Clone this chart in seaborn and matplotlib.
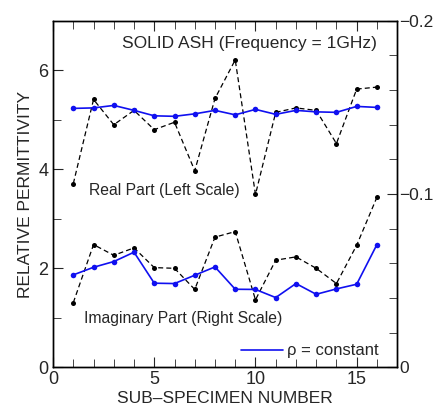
import matplotlib
matplotlib.use("Agg")
import matplotlib.pyplot as plt
import seaborn as sns
import numpy as np
import pandas as pd
from matplotlib.lines import Line2D
from matplotlib.ticker import MultipleLocator, FuncFormatter

specimen = list(range(1, 17))
real_measured = [3.71, 5.41, 4.90, 5.19, 4.80, 4.95, 3.97, 5.43,
                 6.21, 3.49, 5.15, 5.24, 5.19, 4.52, 5.62, 5.66]
real_const = [5.23, 5.24, 5.29, 5.19, 5.08, 5.07, 5.12, 5.19,
              5.10, 5.21, 5.11, 5.19, 5.16, 5.15, 5.27, 5.25]
imag_measured = [-0.0373, -0.0708, -0.0646, -0.0689, -0.0575, -0.0571, -0.0449, -0.0751,
                 -0.0783, -0.0389, -0.0618, -0.0637, -0.0571, -0.0483, -0.0704, -0.0981]
imag_const = [-0.0533, -0.0577, -0.0610, -0.0664, -0.0485, -0.0483, -0.0531, -0.0579,
              -0.0450, -0.0449, -0.0402, -0.0483, -0.0421, -0.0452, -0.0479, -0.0708]

sns.set_style("ticks")
plt.rcParams['font.family'] = ['Liberation Sans', 'DejaVu Sans']
plt.rcParams['axes.unicode_minus'] = True

fig = plt.figure(figsize=(4.35, 4.08), dpi=100)
ax = fig.add_axes([0.122, 0.100, 0.791, 0.849])
ax2 = ax.twinx()

df = pd.DataFrame({"n": specimen, "rm": real_measured, "rc": real_const,
                   "im": imag_measured, "ic": imag_const})

kw_meas = dict(color="black", linewidth=0.9, marker="o", markersize=3.6,
               markeredgewidth=0, linestyle=(0, (4, 2.5)))
kw_const = dict(color="#1010f0", linewidth=1.2, marker="o", markersize=4,
                markeredgewidth=0)

sns.lineplot(data=df, x="n", y="rm", ax=ax, **kw_meas)
sns.lineplot(data=df, x="n", y="rc", ax=ax, **kw_const)
sns.lineplot(data=df, x="n", y="im", ax=ax2, **kw_meas)
sns.lineplot(data=df, x="n", y="ic", ax=ax2, **kw_const)

ax.set_xlim(0, 17)
ax.set_ylim(0, 7)
ax2.set_ylim(0, -0.2)

ax.xaxis.set_major_locator(MultipleLocator(5))
ax.xaxis.set_minor_locator(MultipleLocator(1))
ax.yaxis.set_major_locator(MultipleLocator(2))
ax.yaxis.set_minor_locator(MultipleLocator(1))
ax2.yaxis.set_major_locator(MultipleLocator(0.1))
ax2.yaxis.set_minor_locator(MultipleLocator(0.02))

def rfmt(v, p):
    if abs(v) < 1e-9:
        return "0"
    return ("%.1f" % v).replace("-", "\u2212")
ax2.yaxis.set_major_formatter(FuncFormatter(rfmt))

ax.tick_params(axis="x", which="both", direction="in", top=True, bottom=True,
               labelsize=13, pad=3)
ax.tick_params(axis="x", which="major", length=7)
ax.tick_params(axis="x", which="minor", length=6)
ax.tick_params(axis="y", which="both", direction="in", left=True, right=False,
               labelsize=13)
ax.tick_params(axis="y", which="major", length=7)
ax.tick_params(axis="y", which="minor", length=6)
ax2.tick_params(axis="y", which="both", direction="in", labelsize=12.5, pad=1.5)
ax2.tick_params(axis="y", which="major", length=7)
ax2.tick_params(axis="y", which="minor", length=6)

for a in (ax, ax2):
    for s in a.spines.values():
        s.set_linewidth(1.0)
        s.set_color("black")

ax.set_xlabel("SUB\u2013SPECIMEN NUMBER", fontsize=12.5, labelpad=2)
ax.set_ylabel("RELATIVE PERMITTIVITY", fontsize=12.5, labelpad=4)
ax2.set_ylabel("")

ax.text(0.94, 0.935, "SOLID ASH (Frequency = 1GHz)", transform=ax.transAxes,
        ha="right", va="center", fontsize=12.5)
ax.text(0.105, 0.51, "Real Part (Left Scale)", transform=ax.transAxes,
        ha="left", va="center", fontsize=11.3)
ax.text(0.09, 0.14, "Imaginary Part (Right Scale)", transform=ax.transAxes,
        ha="left", va="center", fontsize=11.3)

handle = Line2D([], [], color="#1010f0", linewidth=1.2)
ax2.legend([handle], ["\u03c1 = constant"], loc="lower right", frameon=False,
           fontsize=12, handlelength=2.5, handletextpad=0.25,
           bbox_to_anchor=(0.99, -0.018))

fig.savefig("out.png", dpi=100)
